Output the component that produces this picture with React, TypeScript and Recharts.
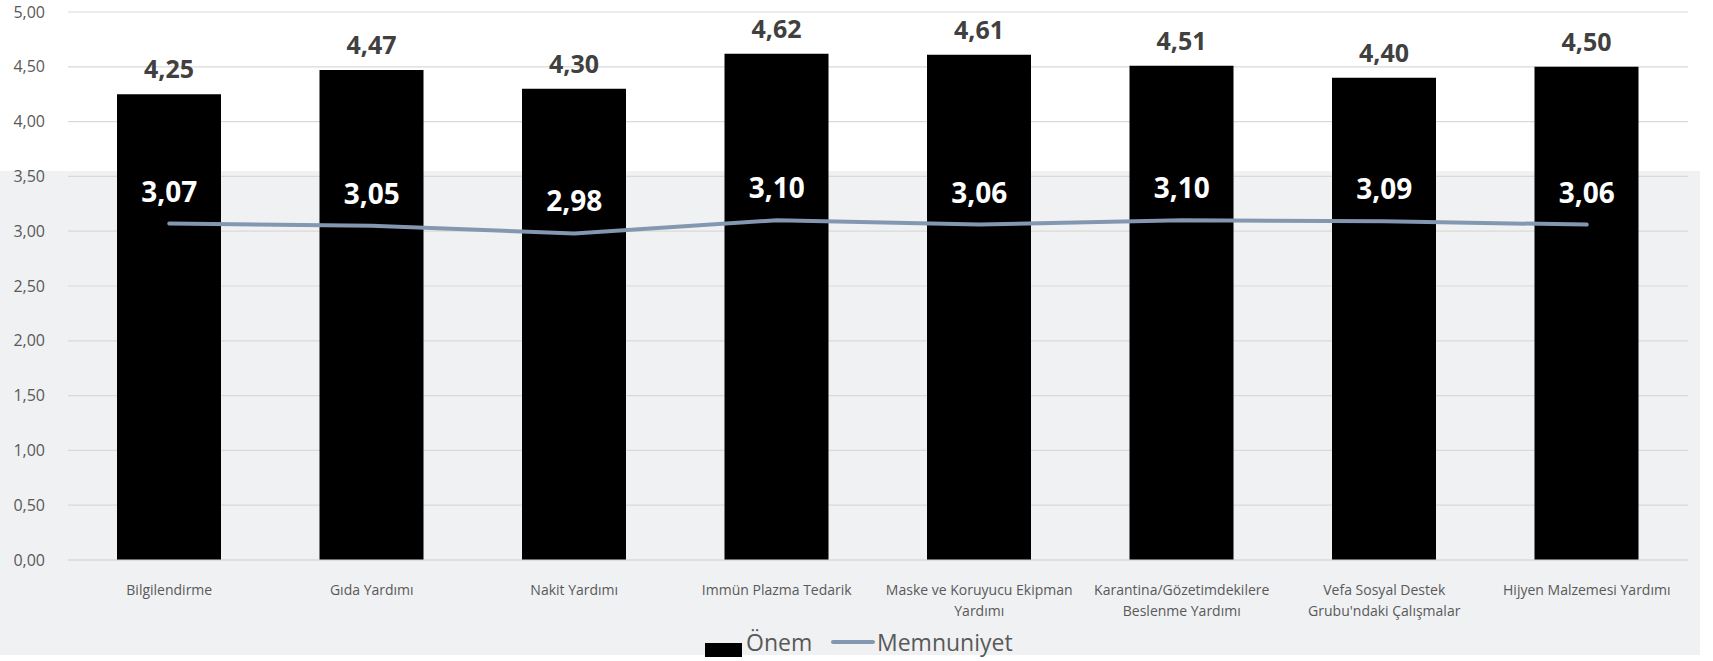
import React from 'react';
import { ComposedChart, Bar, Line, XAxis, YAxis, CartesianGrid, LabelList, Legend } from 'recharts';

const categories = [
  'Bilgilendirme',
  'Gıda Yardımı',
  'Nakit Yardımı',
  'Immün Plazma Tedarik',
  'Maske ve Koruyucu Ekipman\nYardımı',
  'Karantina/Gözetimdekilere\nBeslenme Yardımı',
  'Vefa Sosyal Destek\nGrubu\'ndaki Çalışmalar',
  'Hijyen Malzemesi Yardımı',
];
const onem = [4.25, 4.47, 4.3, 4.62, 4.61, 4.51, 4.4, 4.5];
const memnuniyet = [3.07, 3.05, 2.98, 3.1, 3.06, 3.1, 3.09, 3.06];
const yTicks = [0, 0.5, 1, 1.5, 2, 2.5, 3, 3.5, 4, 4.5, 5];

const data = categories.map((name, i) => ({ name, onem: onem[i], memnuniyet: memnuniyet[i] }));

const FONT = '"Open Sans", sans-serif';
const TEXT = '#595959';
const LINE_COLOR = '#8497b0';

const fmt = (v: number) => v.toFixed(2).replace('.', ',');

function XTick(props: any) {
  const { x, y, payload } = props;
  const lines = String(payload.value).split('\n');
  return (
    <text x={x} y={y + 27} textAnchor="middle" fill={TEXT} fontSize={14} fontFamily={FONT}>
      {lines.map((l, i) => (
        <tspan key={i} x={x} dy={i === 0 ? 0 : 21}>{l}</tspan>
      ))}
    </text>
  );
}

function BarValue(props: any) {
  const { x, y, width, value } = props;
  return (
    <text x={x + width / 2} y={y - 16} textAnchor="middle" fill="#404040" fontSize={25} fontWeight={700} fontFamily={FONT}>
      {fmt(value)}
    </text>
  );
}

function LineValue(props: any) {
  const { x, y, value } = props;
  return (
    <text x={x} y={y - 22} textAnchor="middle" fill="#ffffff" fontSize={28} fontWeight={700} fontFamily={FONT}>
      {fmt(value)}
    </text>
  );
}

function LegendContent() {
  return (
    <div style={{ position: 'relative', height: 0 }}>
      <svg width={1713} height={41} style={{ position: 'absolute', left: 0, top: 0, overflow: 'visible' }}>
        <rect x={705} y={23} width={37} height={14} fill="#000" />
        <text x={746} y={31} fill={TEXT} fontSize={23} fontFamily={FONT}>Önem</text>
        <line x1={833} x2={873} y1={22} y2={22} stroke={LINE_COLOR} strokeWidth={4} strokeLinecap="round" />
        <text x={877} y={31} fill={TEXT} fontSize={23} fontFamily={FONT}>Memnuniyet</text>
      </svg>
    </div>
  );
}

export default function App() {
  return (
    <div style={{ position: 'absolute', left: 0, top: 0, width: 1713, height: 661, background: '#fff', overflow: 'hidden' }}>
      <div style={{ position: 'absolute', left: 0, top: 171, width: 1700, height: 484, background: '#f0f1f3' }} />
      <div style={{ position: 'absolute', left: 0, top: 0, width: 1713, height: 661 }}>
        <ComposedChart width={1713} height={655} data={data} margin={{ top: 12, right: 25, bottom: 0, left: 0 }} style={{ overflow: 'visible' }}>
          <CartesianGrid vertical={false} stroke="#d9d9d9" strokeWidth={1.2} />
          <XAxis
            dataKey="name"
            height={95}
            interval={0}
            tickLine={false}
            axisLine={{ stroke: '#d9d9d9', strokeWidth: 1.2 }}
            tick={<XTick />}
          />
          <YAxis
            width={68}
            domain={[0, 5]}
            ticks={yTicks}
            tickFormatter={fmt}
            axisLine={false}
            tickLine={false}
            tickMargin={17}
            tick={{ fill: TEXT, fontSize: 16, fontFamily: FONT }}
          />
          <Legend verticalAlign="bottom" content={<LegendContent />} wrapperStyle={{ top: 620, left: 0, bottom: 'auto', width: 1713 }} />
          <Bar dataKey="onem" name="Önem" fill="#000" barSize={104} isAnimationActive={false}>
            <LabelList dataKey="onem" content={<BarValue />} />
          </Bar>
          <Line
            dataKey="memnuniyet"
            name="Memnuniyet"
            type="linear"
            stroke={LINE_COLOR}
            strokeWidth={4}
            strokeLinecap="round"
            dot={false}
            activeDot={false}
            isAnimationActive={false}
          >
            <LabelList dataKey="memnuniyet" content={<LineValue />} />
          </Line>
        </ComposedChart>
      </div>
    </div>
  );
}
